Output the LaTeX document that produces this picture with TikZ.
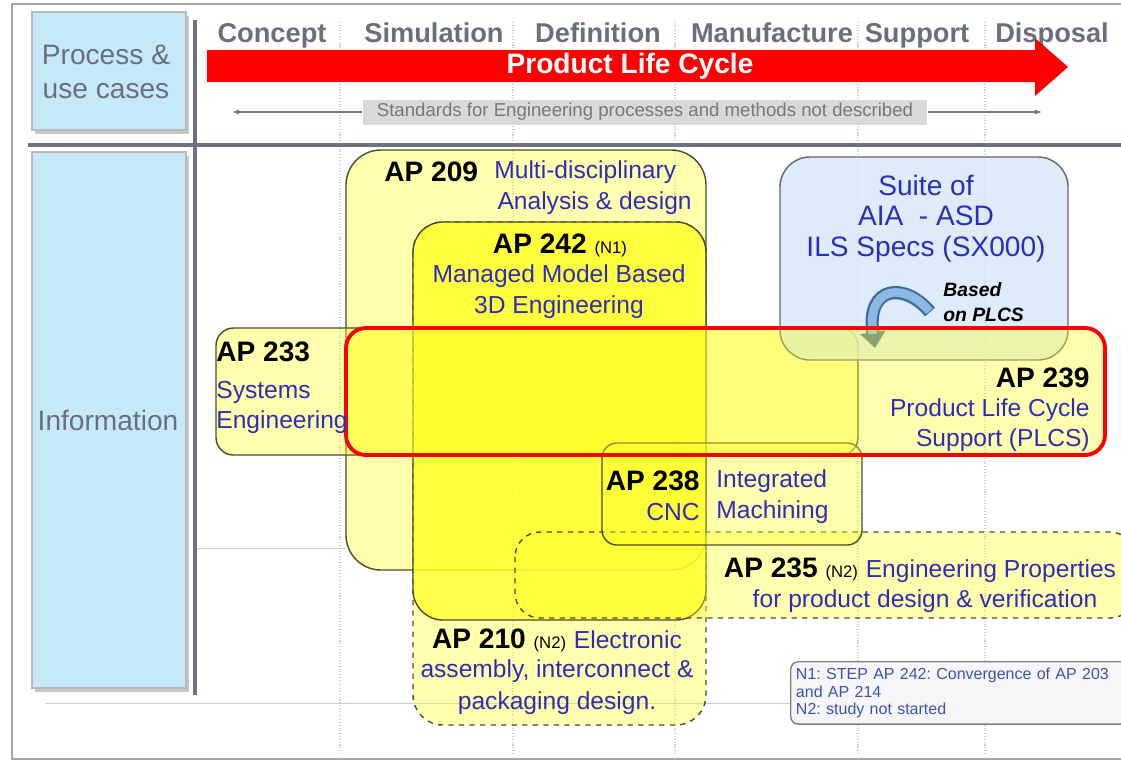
\documentclass[tikz,border=0pt]{standalone}
\usepackage{fontspec}
\setmainfont{Liberation Sans}
\usetikzlibrary{arrows.meta}
\frenchspacing

\definecolor{cellblue}{RGB}{197,233,248}
\definecolor{headgray}{RGB}{105,112,125}
\definecolor{rulegray}{RGB}{110,114,128}
\definecolor{gridgray}{RGB}{200,206,218}
\definecolor{lcred}{RGB}{255,0,0}
\definecolor{stdfill}{RGB}{217,217,217}
\definecolor{stdtext}{RGB}{120,120,120}
\definecolor{apyellow}{RGB}{255,255,40}
\definecolor{apborder}{RGB}{75,75,45}
\definecolor{apblue}{RGB}{45,45,185}
\definecolor{noteblue}{RGB}{60,85,170}
\definecolor{suitefill}{RGB}{214,231,248}
\definecolor{turnblue}{RGB}{140,185,228}
\definecolor{turnedge}{RGB}{65,105,155}
\definecolor{notefill}{RGB}{246,246,248}

\tikzset{
  cellbox/.style={fill=cellblue, draw=gray!55, line width=0.8pt},
  phase/.style={text=headgray, inner sep=0pt, anchor=base, font=\fontsize{15.5}{18}\selectfont\bfseries},
  rowlabel/.style={text=headgray, align=center, font=\fontsize{16}{19.5}\selectfont},
  apbox/.style={draw=apborder, line width=0.8pt, fill=apyellow, fill opacity=0.38},
  apname/.style={text=black, inner sep=0pt, font=\fontsize{16}{19}\selectfont\bfseries},
  aptext/.style={text=apblue, inner sep=0pt, font=\fontsize{14}{17}\selectfont},
  gridline/.style={gridgray, densely dotted, line width=0.6pt},
}
\newcommand{\apsmall}[1]{{\fontsize{9.5}{11}\selectfont\mdseries #1}}

\begin{document}
\begin{tikzpicture}[x=0.02cm, y=-0.02cm]
  \useasboundingbox (0,0) rectangle (1121,762);

  % faint phase grid
  \foreach \gx in {340,513,675,858,985}
    \draw[gridline] (\gx,22) -- (\gx,755);
  \draw[gridgray, line width=0.5pt] (195,548) -- (346,548);
  \draw[gridgray, line width=0.5pt] (45,703) -- (1121,703);

  % frame and rules
  \draw[gray!70, line width=1.2pt] (12,4) rectangle (1140,759);
  \draw[rulegray, line width=2.2pt] (195,20) -- (195,695);
  \draw[rulegray, line width=2.2pt] (28,145) -- (1121,145);

  % row headers
  \fill[gray!45] (35,16) rectangle (189,134);
  \draw[cellbox] (32,12) rectangle (186,130);
  \node[rowlabel] (process) at (106,72) {Process \&\\use cases};
  \fill[gray!45] (35,156) rectangle (189,692);
  \draw[cellbox] (32,152) rectangle (186,688);
  \node[rowlabel] (information) at (108,420) {Information};

  % life cycle phases
  \node[phase] (concept) at (272,42) {Concept};
  \node[phase] (simulation) at (434,42) {Simulation};
  \node[phase] (definition) at (598,42) {Definition};
  \node[phase] (manufacture) at (772,42) {Manufacture};
  \node[phase] (support) at (917,42) {Support};
  \node[phase] (disposal) at (1052,42) {Disposal};

  \fill[lcred] (207,50) -- (1035,50) -- (1035,38) -- (1068,67) -- (1035,96) -- (1035,82) -- (207,82) -- cycle;
  \node[text=white, font=\fontsize{16}{19}\selectfont\bfseries] (plc) at (630,66) {Product Life Cycle};

  \node[fill=stdfill, text=stdtext, minimum width=11.3cm, minimum height=0.5cm, inner sep=0pt,
        font=\fontsize{10.6}{12}\selectfont] (stdnote) at (645,112)
        {Standards for Engineering processes and methods not described};
  \coordinate (stdleft) at (232,112);
  \coordinate (stdright) at (1042,112);
  \draw[stdtext, line width=0.8pt, -{Latex[length=4pt,width=3pt]}] (stdnote.west) -- (stdleft);
  \draw[stdtext, line width=0.8pt, -{Latex[length=4pt,width=3pt]}] (stdnote.east) -- (stdright);

  % application protocol boxes
  \draw[apbox, rounded corners=0.7cm] (346,150) rectangle (706,570);
  \draw[apbox, dashed, rounded corners=0.6cm] (413,222) rectangle (706,725);
  \draw[apbox, fill opacity=0.75, rounded corners=0.6cm] (413,222) rectangle (706,620);
  \draw[apbox, dashed, rounded corners=0.5cm] (515,532) rectangle (1135,618);
  \draw[apbox, rounded corners=0.35cm] (216,328) rectangle (858,455);
  \draw[draw=gray!80!black, line width=0.8pt, fill=suitefill, fill opacity=0.8, rounded corners=0.6cm] (780,157) rectangle (1068,360);
  \draw[apbox, rounded corners=0.3cm] (602,443) rectangle (862,545);

  % based on PLCS
  \coordinate (turnfrom) at (930,312);
  \coordinate (turnto) at (875,348);
  \draw[turnedge, line width=7.5pt, -{Triangle[length=9pt,width=14pt]}] (turnfrom) .. controls (905,282) and (866,285) .. (turnto);
  \draw[turnblue, line width=5pt, shorten >=8pt, shorten <=0.6pt] (turnfrom) .. controls (905,282) and (866,285) .. (turnto);
  \node[anchor=west, inner sep=0pt, font=\fontsize{11}{13}\selectfont\bfseries\itshape] (based) at (943,290) {Based};
  \node[anchor=west, inner sep=0pt, font=\fontsize{11}{13}\selectfont\bfseries\itshape] (onplcs) at (943,315) {on PLCS};

  \draw[apbox, draw=lcred, line width=2.2pt, rounded corners=0.4cm] (346,328) rectangle (1105,455);

  % texts
  \node[apname, anchor=west] (ap209) at (384,172) {AP 209};
  \node[aptext, anchor=west] (ap209a) at (494,172) {Multi-disciplinary};
  \node[aptext, anchor=east] (ap209b) at (692,203) {Analysis \& design};

  \node[apname] (ap242) at (560,245) {AP 242 \apsmall{(N1)}};
  \node[aptext] (ap242a) at (559,276) {Managed Model Based};
  \node[aptext] (ap242b) at (559,307) {3D Engineering};

  \node[apname, anchor=west] (ap233) at (216,352) {AP 233};
  \node[aptext, anchor=west] (ap233a) at (216,392) {Systems};
  \node[aptext, anchor=west] (ap233b) at (216,422) {Engineering};

  \node[apname, anchor=east] (ap239) at (1090,378) {AP 239};
  \node[aptext, anchor=east] (ap239a) at (1090,410) {Product Life Cycle};
  \node[aptext, anchor=east] (ap239b) at (1090,440) {Support (PLCS)};

  \node[aptext, font=\fontsize{16}{19}\selectfont] (suite1) at (926,185) {Suite of};
  \node[aptext, font=\fontsize{16}{19}\selectfont] (suite2) at (926,216) {AIA~~- ASD};
  \node[aptext, font=\fontsize{16}{19}\selectfont] (suite3) at (926,249) {ILS Specs (SX000)};

  \node[apname, anchor=east] (ap238) at (700,481) {AP 238};
  \node[aptext, anchor=east] (ap238a) at (700,512) {CNC};
  \node[aptext, anchor=west] (ap238b) at (716,481) {Integrated};
  \node[aptext, anchor=west] (ap238c) at (716,512) {Machining};

  \node[apname] (ap235) at (920,570) {AP 235 \apsmall{(N2)} \textcolor{apblue}{\fontsize{14}{17}\selectfont\mdseries Engineering Properties}};
  \node[aptext] (ap235a) at (925,601) {for product design \& verification};

  \node[apname] (ap210) at (557,640) {AP 210 \apsmall{(N2)} \textcolor{apblue}{\fontsize{14}{17}\selectfont\mdseries Electronic}};
  \node[aptext] (ap210a) at (557,671) {assembly, interconnect \&};
  \node[aptext] (ap210b) at (557,703) {packaging design.};

  % notes
  \node[draw=gray, line width=0.8pt, fill=notefill, rounded corners=0.15cm, anchor=north west,
        text=noteblue, align=left, inner xsep=3pt, inner ysep=3.5pt, text width=6.9cm,
        font=\fontsize{9.1}{10}\selectfont] (notes) at (790,661)
        {N1: STEP AP 242: Convergence of AP 203\\and AP 214\\N2: study not started};
\end{tikzpicture}
\end{document}
